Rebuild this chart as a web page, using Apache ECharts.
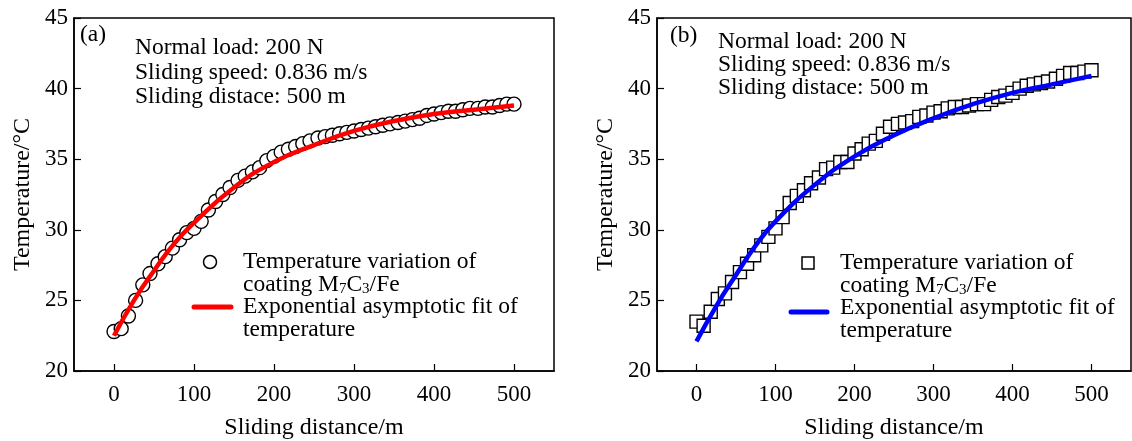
<!DOCTYPE html>
<html>
<head>
<meta charset="utf-8">
<script src="https://cdn.jsdelivr.net/npm/echarts@6/dist/echarts.min.js"></script>
<style>
  html, body { margin: 0; padding: 0; background: #fff; }
  #chart { width: 1132px; height: 441px; }
</style>
</head>
<body>
<div id="chart"></div>
<script>
// sliding distance of every measured point (m), same sampling for both coatings
const distance = [0, 9, 18, 27, 36, 45, 55, 64, 73, 82, 91, 100, 109, 118, 127, 136, 145, 155, 164, 173,
  182, 191, 200, 209, 218, 227, 236, 245, 255, 264, 273, 282, 291, 300, 309, 318, 327, 336, 345, 355,
  364, 373, 382, 391, 400, 409, 418, 427, 436, 445, 455, 464, 473, 482, 491, 500];

// (a) measured temperature, circles
const tempA = [22.8, 23.0, 23.9, 25.0, 26.1, 26.9, 27.6, 28.1, 28.7, 29.3, 29.8, 30.1, 30.6, 31.4, 32.0, 32.5, 33.0, 33.5, 33.8, 34.1,
  34.4, 34.9, 35.2, 35.5, 35.7, 35.9, 36.1, 36.3, 36.5, 36.6, 36.7, 36.8, 36.9, 37.0, 37.1, 37.2, 37.3, 37.4, 37.5, 37.6,
  37.7, 37.8, 37.9, 38.1, 38.2, 38.3, 38.4, 38.4, 38.5, 38.6, 38.6, 38.7, 38.7, 38.8, 38.9, 38.9];

// (b) measured temperature, squares
const tempB = [23.5, 23.2, 24.2, 25.1, 25.5, 26.3, 27.0, 27.6, 28.2, 28.9, 29.5, 30.1, 30.9, 31.9, 32.4, 32.8, 33.3, 33.7, 34.3, 34.4,
  34.8, 34.8, 35.4, 35.7, 36.1, 36.3, 36.8, 37.3, 37.5, 37.6, 37.7, 38.0, 38.1, 38.3, 38.4, 38.6, 38.7, 38.7, 38.8, 38.9,
  38.9, 39.2, 39.4, 39.5, 39.7, 40.0, 40.2, 40.3, 40.4, 40.5, 40.7, 40.9, 41.1, 41.1, 41.2, 41.3];

// exponential asymptotic fit curves
const fitX = [0, 25, 50, 75, 100, 150, 200, 250, 300, 350, 400, 450, 500];
const fitA = [22.5, 25.0, 27.1, 29.0, 30.5, 33.0, 34.8, 36.0, 37.0, 37.7, 38.2, 38.5, 38.8];
const fitB = [22.1, 24.6, 26.8, 28.9, 30.6, 33.2, 35.2, 36.7, 37.9, 38.9, 39.7, 40.3, 40.9];

const xName = 'Sliding distance/m';
const yName = 'Temperature/°C';
const conditions = ['Normal load: 200 N', 'Sliding speed: 0.836 m/s', 'Sliding distace: 500 m'];
const legendScatter = 'Temperature variation of\ncoating M{sub|7}C{sub|3}/Fe';
const legendFit = 'Exponential asymptotic fit of\ntemperature';

const FONT = 'Liberation Serif';
const zip = (xs, ys) => xs.map((x, i) => [x, ys[i]]);

function xAxisOpt(gridIndex) {
  return {
    gridIndex, type: 'value', min: -50, max: 550, splitNumber: 6,
    name: xName, nameLocation: 'middle', nameGap: 45,
    nameTextStyle: {fontFamily: FONT, fontSize: 24, color: '#000'},
    axisLine: {show: true, onZero: false, lineStyle: {color: '#000', width: 1.5}},
    axisTick: {inside: true, length: 7, lineStyle: {color: '#000', width: 1.2}},
    axisLabel: {fontFamily: FONT, fontSize: 23, color: '#000', margin: 12, showMinLabel: false, showMaxLabel: false},
    splitLine: {show: false}
  };
}

function yAxisOpt(gridIndex) {
  return {
    gridIndex, type: 'value', min: 20, max: 45, interval: 5,
    name: yName, nameLocation: 'middle', nameGap: 39,
    nameTextStyle: {fontFamily: FONT, fontSize: 24, color: '#000'},
    axisLine: {show: true, onZero: false, lineStyle: {color: '#000', width: 1.5}},
    axisTick: {inside: true, length: 7, lineStyle: {color: '#000', width: 1.2}},
    axisLabel: {fontFamily: FONT, fontSize: 23, color: '#000', margin: 6},
    splitLine: {show: false}
  };
}

const textStyle = (x, y, text, lh) => ({
  type: 'text', left: x, top: y, z: 100,
  style: {
    text, fill: '#000', font: '23.5px "Liberation Serif"', lineHeight: lh,
    rich: {sub: {fontSize: 15, fontFamily: FONT, verticalAlign: 'bottom', lineHeight: 12}}
  }
});

function panelGraphics(p) {
  return [
    textStyle(p.tagX, p.tagY, p.tag, 24),
    textStyle(p.condX, p.condY, conditions.join('\n'), p.condLh),
    p.marker,
    textStyle(p.legX, p.legY, legendScatter, 23),
    {type: 'line', z: 100, shape: {x1: p.lineX1, y1: p.lineY, x2: p.lineX2, y2: p.lineY},
      style: {stroke: p.color, lineWidth: 5, lineCap: 'round'}},
    textStyle(p.legX, p.legY + 45, legendFit, 23)
  ];
}

const chart = echarts.init(document.getElementById('chart'));
chart.setOption({
  backgroundColor: '#fff',
  animation: false,
  grid: [
    {left: 74, top: 18, width: 480, height: 353, show: true, borderColor: '#000', borderWidth: 1.5, outerBoundsMode: 'none'},
    {left: 657, top: 18, width: 474, height: 353, show: true, borderColor: '#000', borderWidth: 1.5, outerBoundsMode: 'none'}
  ],
  xAxis: [xAxisOpt(0), xAxisOpt(1)],
  yAxis: [yAxisOpt(0), yAxisOpt(1)],
  series: [
    {
      type: 'scatter', xAxisIndex: 0, yAxisIndex: 0, data: zip(distance, tempA),
      symbol: 'circle', symbolSize: 14,
      itemStyle: {color: '#fff', borderColor: '#000', borderWidth: 1.4, opacity: 1}
    },
    {
      type: 'line', xAxisIndex: 0, yAxisIndex: 0, data: zip(fitX, fitA), smooth: true,
      showSymbol: false, z: 5, lineStyle: {color: '#ff0000', width: 4.5}
    },
    {
      type: 'scatter', xAxisIndex: 1, yAxisIndex: 1, data: zip(distance, tempB),
      symbol: 'rect', symbolSize: 13,
      itemStyle: {color: '#fff', borderColor: '#000', borderWidth: 1.4, opacity: 1}
    },
    {
      type: 'line', xAxisIndex: 1, yAxisIndex: 1, data: zip(fitX, fitB), smooth: true,
      showSymbol: false, z: 5, lineStyle: {color: '#0000ff', width: 4.5}
    }
  ],
  graphic: [
    ...panelGraphics({
      tag: '(a)', tagX: 80, tagY: 23, condX: 135, condY: 36, condLh: 24.5,
      marker: {type: 'circle', z: 100, shape: {cx: 210, cy: 262, r: 6.5},
        style: {fill: '#fff', stroke: '#000', lineWidth: 1.5}},
      legX: 243, legY: 250, lineX1: 194, lineX2: 231, lineY: 307, color: '#ff0000'
    }),
    ...panelGraphics({
      tag: '(b)', tagX: 670, tagY: 24, condX: 718, condY: 30, condLh: 23,
      marker: {type: 'rect', z: 100, shape: {x: 802, y: 257, width: 12, height: 12},
        style: {fill: '#fff', stroke: '#000', lineWidth: 1.5}},
      legX: 840, legY: 251, lineX1: 791, lineX2: 827, lineY: 312, color: '#0000ff'
    })
  ]
});
</script>
</body>
</html>
